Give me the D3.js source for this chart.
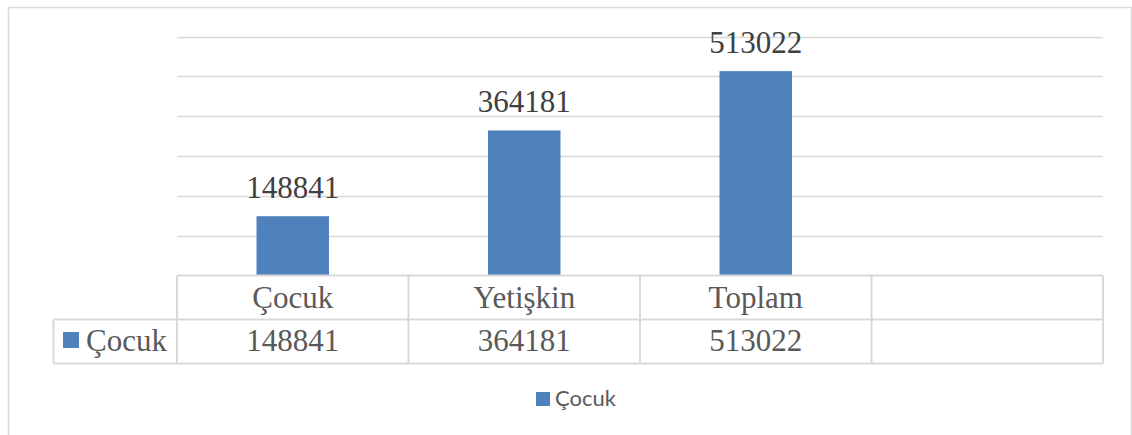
<!DOCTYPE html>
<html>
<head>
<meta charset="utf-8">
<script src="https://cdn.jsdelivr.net/npm/d3@7"></script>
<style>
  html, body { margin: 0; padding: 0; background: #fff; }
  svg { display: block; }
</style>
</head>
<body>
<svg id="chart" width="1132" height="435"></svg>
<script>
// ---- data ----
const categories = ["Çocuk", "Yetişkin", "Toplam", ""];
const seriesName = "Çocuk";
const values = [148841, 364181, 513022, null];
const yTicks = [0, 100000, 200000, 300000, 400000, 500000, 600000];

const svg = d3.select("#chart");
const W = 1132, H = 435;

const gridCol = "#d9d9d9";
const barCol = "#4f81bd";
const serif = "Liberation Serif, serif";

// outer border
svg.append("path")
  .attr("d", `M8.5,${H} V7.5 H1131.5 V${H}`)
  .attr("fill", "none").attr("stroke", gridCol).attr("stroke-width", 1.5);

const x = d3.scaleBand().domain(categories).range([177, 1103]).padding(0);
const y = d3.scaleLinear().domain([0, 600000]).range([275.5, 36.5]);

// gridlines
svg.append("g").selectAll("line").data(yTicks.filter(t => t > 0)).join("line")
  .attr("x1", 177).attr("x2", 1103)
  .attr("y1", d => Math.round(y(d)) + 0.5).attr("y2", d => Math.round(y(d)) + 0.5)
  .attr("stroke", gridCol).attr("stroke-width", 1.5);

// bars
const barFrac = 0.313;
const data = categories.map((c, i) => ({ c, v: values[i] })).filter(d => d.v != null);
svg.append("g").selectAll("rect").data(data).join("rect")
  .attr("x", d => x(d.c) + x.bandwidth() * (1 - barFrac) / 2)
  .attr("width", x.bandwidth() * barFrac)
  .attr("y", d => y(d.v))
  .attr("height", d => y(0) - y(d.v))
  .attr("fill", barCol);

// data labels
svg.append("g").selectAll("text").data(data).join("text")
  .attr("x", d => x(d.c) + x.bandwidth() / 2)
  .attr("y", d => y(d.v) - 18)
  .attr("text-anchor", "middle")
  .style("font-family", serif).style("font-size", "31px")
  .attr("fill", "#404040")
  .text(d => d.v);

// data table
const rowTop = 275.5, rowMid = 319.5, rowBot = 363.5, tableLeft = 53.5;
const tg = svg.append("g").attr("stroke", gridCol).attr("stroke-width", 2).attr("fill", "none");
tg.append("line").attr("x1", 177).attr("x2", 1103).attr("y1", rowTop).attr("y2", rowTop);
tg.append("line").attr("x1", tableLeft).attr("x2", 1103).attr("y1", rowMid).attr("y2", rowMid);
tg.append("line").attr("x1", tableLeft).attr("x2", 1103).attr("y1", rowBot).attr("y2", rowBot);
tg.append("line").attr("x1", tableLeft).attr("x2", tableLeft).attr("y1", rowMid).attr("y2", rowBot);
const edges = categories.map(c => x(c)).concat([x.range()[1]]);
tg.selectAll("line.v").data(edges).join("line").attr("class", "v")
  .attr("x1", d => d).attr("x2", d => d).attr("y1", rowTop).attr("y2", rowBot);

// header labels
svg.append("g").selectAll("text").data(categories).join("text")
  .attr("x", d => x(d) + x.bandwidth() / 2)
  .attr("y", 308)
  .attr("text-anchor", "middle")
  .style("font-family", serif).style("font-size", "31px").attr("fill", "#595959")
  .text(d => d);

// value row
svg.append("g").selectAll("text").data(categories.map((c, i) => ({ c, v: values[i] }))).join("text")
  .attr("x", d => x(d.c) + x.bandwidth() / 2)
  .attr("y", 351)
  .attr("text-anchor", "middle")
  .style("font-family", serif).style("font-size", "31px").attr("fill", "#595959")
  .text(d => d.v == null ? "" : d.v);

// row legend key
svg.append("rect").attr("x", 63).attr("y", 332).attr("width", 16).attr("height", 16).attr("fill", barCol);
svg.append("text").attr("x", 86).attr("y", 351)
  .style("font-family", serif).style("font-size", "31px").attr("fill", "#595959")
  .text(seriesName);

// bottom legend
svg.append("rect").attr("x", 536).attr("y", 392).attr("width", 14).attr("height", 14).attr("fill", barCol);
svg.append("text").attr("x", 555).attr("y", 406)
  .style("font-family", "Lato, sans-serif").style("font-size", "22px").attr("fill", "#595959")
  .text(seriesName);
</script>
</body>
</html>
